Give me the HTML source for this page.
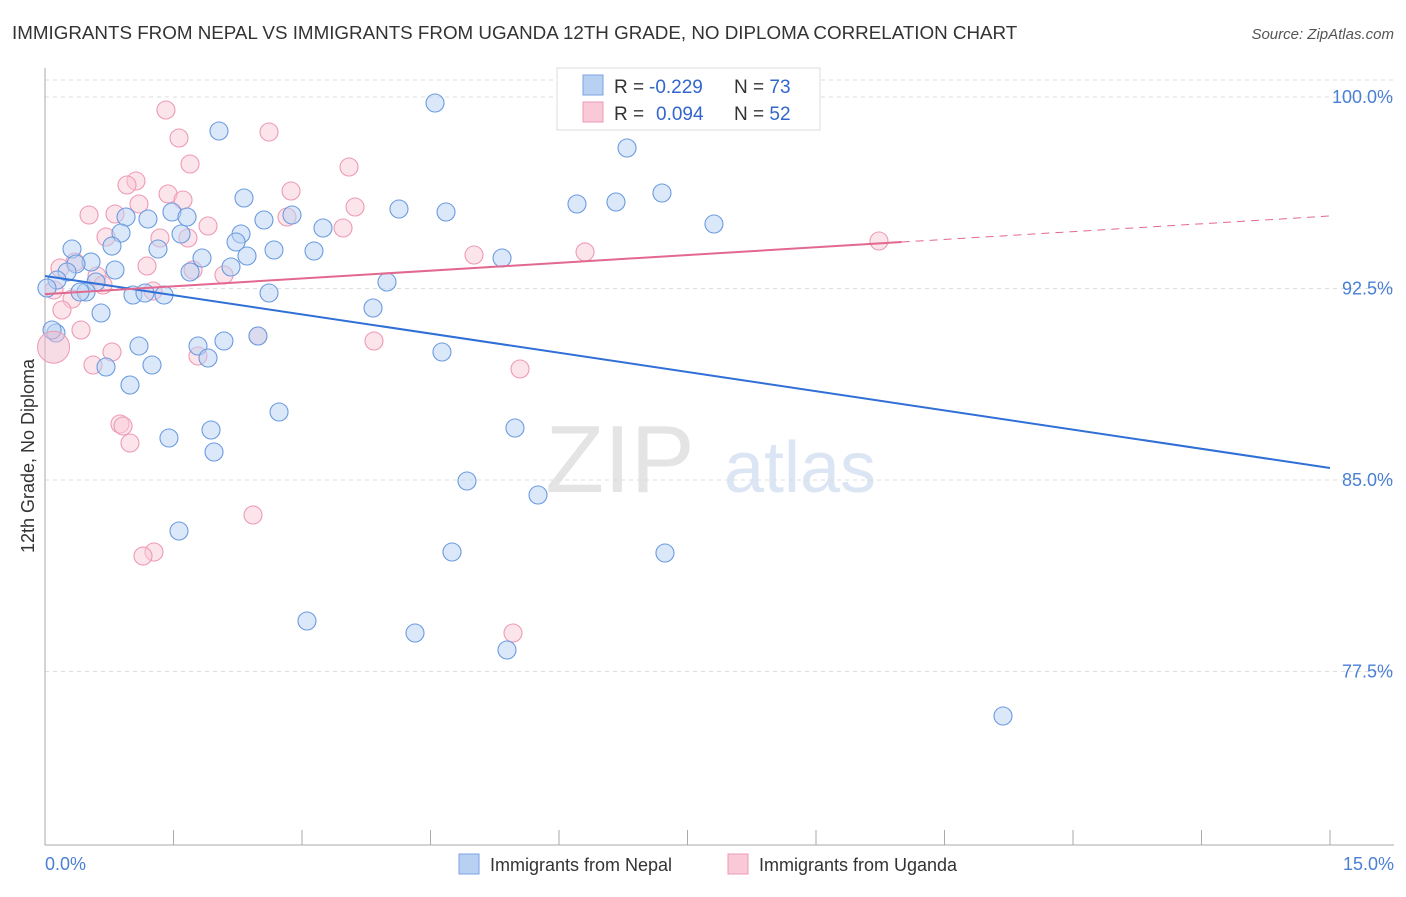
<!DOCTYPE html>
<html><head><meta charset="utf-8"><style>
body{margin:0;background:#fff;font-family:"Liberation Sans",sans-serif}
svg text{font-family:"Liberation Sans",sans-serif}
</style></head><body>
<svg id="chart" width="1406" height="892" xmlns="http://www.w3.org/2000/svg">
<text x="12" y="39" font-size="18.8" fill="#333">IMMIGRANTS FROM NEPAL VS IMMIGRANTS FROM UGANDA 12TH GRADE, NO DIPLOMA CORRELATION CHART</text>
<text x="1394" y="39" font-size="15" fill="#555" text-anchor="end" font-style="italic">Source: ZipAtlas.com</text>
<text x="620" y="492" font-size="96" fill="#e4e4e4" font-family="Liberation Serif" text-anchor="middle">ZIP</text>
<text x="800" y="492" font-size="72" fill="#dbe5f3" text-anchor="middle">atlas</text>
<g id="grid"></g><g id="axes"></g><g id="marks"></g>
<text transform="translate(34,456) rotate(-90)" font-size="18" fill="#333" text-anchor="middle">12th Grade, No Diploma</text>
<text x="45" y="870" font-size="18" fill="#4a7fd4">0.0%</text>
<text x="1394" y="870" font-size="18" fill="#4a7fd4" text-anchor="end">15.0%</text>
<g>
<rect x="557" y="68" width="263" height="62" fill="#fff" stroke="#ddd"/>
<rect x="583" y="75" width="20" height="20" fill="#b8d1f3" stroke="#7aa3e0"/>
<rect x="583" y="102" width="20" height="20" fill="#f9c9d8" stroke="#ee9ab5"/>
<text x="614" y="93" font-size="19" fill="#333">R = </text>
<text x="649" y="93" font-size="19" fill="#3366cc">-0.229</text>
<text x="734" y="93" font-size="19" fill="#333">N = <tspan fill="#3366cc">73</tspan></text>
<text x="614" y="120" font-size="19" fill="#333">R = </text>
<text x="656" y="120" font-size="19" fill="#3366cc">0.094</text>
<text x="734" y="120" font-size="19" fill="#333">N = <tspan fill="#3366cc">52</tspan></text>
</g>
<g>
<rect x="459" y="854" width="20" height="20" fill="#b8d1f3" stroke="#7aa3e0"/>
<text x="490" y="871" font-size="18" fill="#333">Immigrants from Nepal</text>
<rect x="728" y="854" width="20" height="20" fill="#f9c9d8" stroke="#ee9ab5"/>
<text x="759" y="871" font-size="18" fill="#333">Immigrants from Uganda</text>
</g>
</svg>
<script>
const yTicks=[100,92.5,85,77.5];
const yTickLabels=["100.0%","92.5%","85.0%","77.5%"];
const xTicks=[0,1.5,3,4.5,6,7.5,9,10.5,12,13.5,15];
const nepalPx=[[435,103],[219,131],[627,148],[662,193],[244,198],[577,204],[616,202],[399,209],[446,212],[172,212],[126,217],[148,219],[187,217],[264,220],[292,215],[714,224],[323,228],[121,233],[181,234],[241,234],[236,242],[112,246],[158,249],[72,249],[274,250],[314,251],[247,256],[202,258],[502,258],[91,262],[76,264],[115,270],[231,267],[190,272],[67,272],[57,280],[96,282],[387,282],[86,292],[133,295],[145,293],[164,295],[269,293],[47,288],[373,308],[101,313],[56,333],[258,336],[198,346],[224,341],[139,346],[442,352],[208,358],[152,365],[106,367],[130,385],[279,412],[211,430],[515,428],[169,438],[214,452],[467,481],[538,495],[179,531],[452,552],[665,553],[307,621],[415,633],[507,650],[1003,716],[52,330],[80,292]];
const ugandaPx=[[166,110],[179,138],[269,132],[190,164],[349,167],[136,181],[127,185],[168,194],[291,191],[183,200],[139,204],[355,207],[89,215],[115,214],[287,217],[208,226],[343,228],[106,237],[188,238],[160,238],[474,255],[585,252],[879,241],[75,262],[60,268],[147,266],[97,276],[193,270],[224,275],[103,285],[54,290],[153,291],[72,299],[62,310],[81,330],[258,336],[374,341],[112,352],[198,356],[93,365],[520,369],[120,424],[123,426],[130,443],[253,515],[154,552],[143,556],[513,633]];
const nepalX=nepalPx.map(p=>+((p[0]-45)/1285*15).toFixed(3));
const nepalY=nepalPx.map(p=>+(100-(p[1]-97)/191.5*7.5).toFixed(3));
const ugandaX=ugandaPx.map(p=>+((p[0]-45)/1285*15).toFixed(3));
const ugandaY=ugandaPx.map(p=>+(100-(p[1]-97)/191.5*7.5).toFixed(3));
const nepalTrend=[[0,92.99],[15,85.47]];
const ugandaTrend=[[0,92.28],[10,94.32],[15,95.34]];
const X=v=>45+v/15*1285, Y=v=>97+(100-v)/7.5*191.5;
const NS="http://www.w3.org/2000/svg";
function mk(t,a,parent){const e=document.createElementNS(NS,t);for(const k in a)e.setAttribute(k,a[k]);document.getElementById(parent).appendChild(e);return e;}
let g=mk('line',{x1:45,x2:1394,y1:80,y2:80,stroke:'#ddd','stroke-dasharray':'4,4'},'grid');


yTicks.forEach((v,i)=>{
 const l=mk('line',{x1:45,x2:1394,y1:Y(v),y2:Y(v),stroke:'#ddd','stroke-dasharray':'4,4'},'grid');
 
 
 const t=mk('text',{x:1393,y:Y(v)+6,'font-size':18,fill:'#4a7fd4','text-anchor':'end'},'axes');
 t.textContent=yTickLabels[i];
 
 
});
let a=mk('line',{x1:45,x2:45,y1:68,y2:845,stroke:'#aaa'},'axes');


a=mk('line',{x1:45,x2:1394,y1:845,y2:845,stroke:'#aaa'},'axes');


xTicks.forEach(v=>{const t=mk('line',{x1:X(v),x2:X(v),y1:830,y2:845,stroke:'#aaa'},'axes');
 
 });
function dots(xs,ys,fill,stroke,name){xs.forEach((x,i)=>{const c=mk('circle',{cx:X(x),cy:Y(ys[i]),r:9,fill:fill,'fill-opacity':0.5,stroke:stroke,'stroke-width':1.1},'marks');
 
 });}
dots(ugandaX,ugandaY,'#f9c9d8','#ee9ab5','uganda-point');
dots(nepalX,nepalY,'#b8d1f3','#6b9be0','nepal-point');
let big=mk('circle',{cx:X(0.1),cy:Y(90.2),r:16,fill:'#f2b9cc','fill-opacity':0.5,stroke:'#ee9ab5'},'marks');


let tl=mk('line',{x1:X(nepalTrend[0][0]),y1:Y(nepalTrend[0][1]),x2:X(nepalTrend[1][0]),y2:Y(nepalTrend[1][1]),stroke:'#2f6fd6','stroke-width':2},'marks');


tl=mk('line',{x1:X(ugandaTrend[0][0]),y1:Y(ugandaTrend[0][1]),x2:X(ugandaTrend[1][0]),y2:Y(ugandaTrend[1][1]),stroke:'#e2688f','stroke-width':2},'marks');


tl=mk('line',{x1:X(ugandaTrend[1][0]),y1:Y(ugandaTrend[1][1]),x2:X(ugandaTrend[2][0]),y2:Y(ugandaTrend[2][1]),stroke:'#e2688f','stroke-width':1,'stroke-dasharray':'8,6'},'marks');


</script>
</body></html>
